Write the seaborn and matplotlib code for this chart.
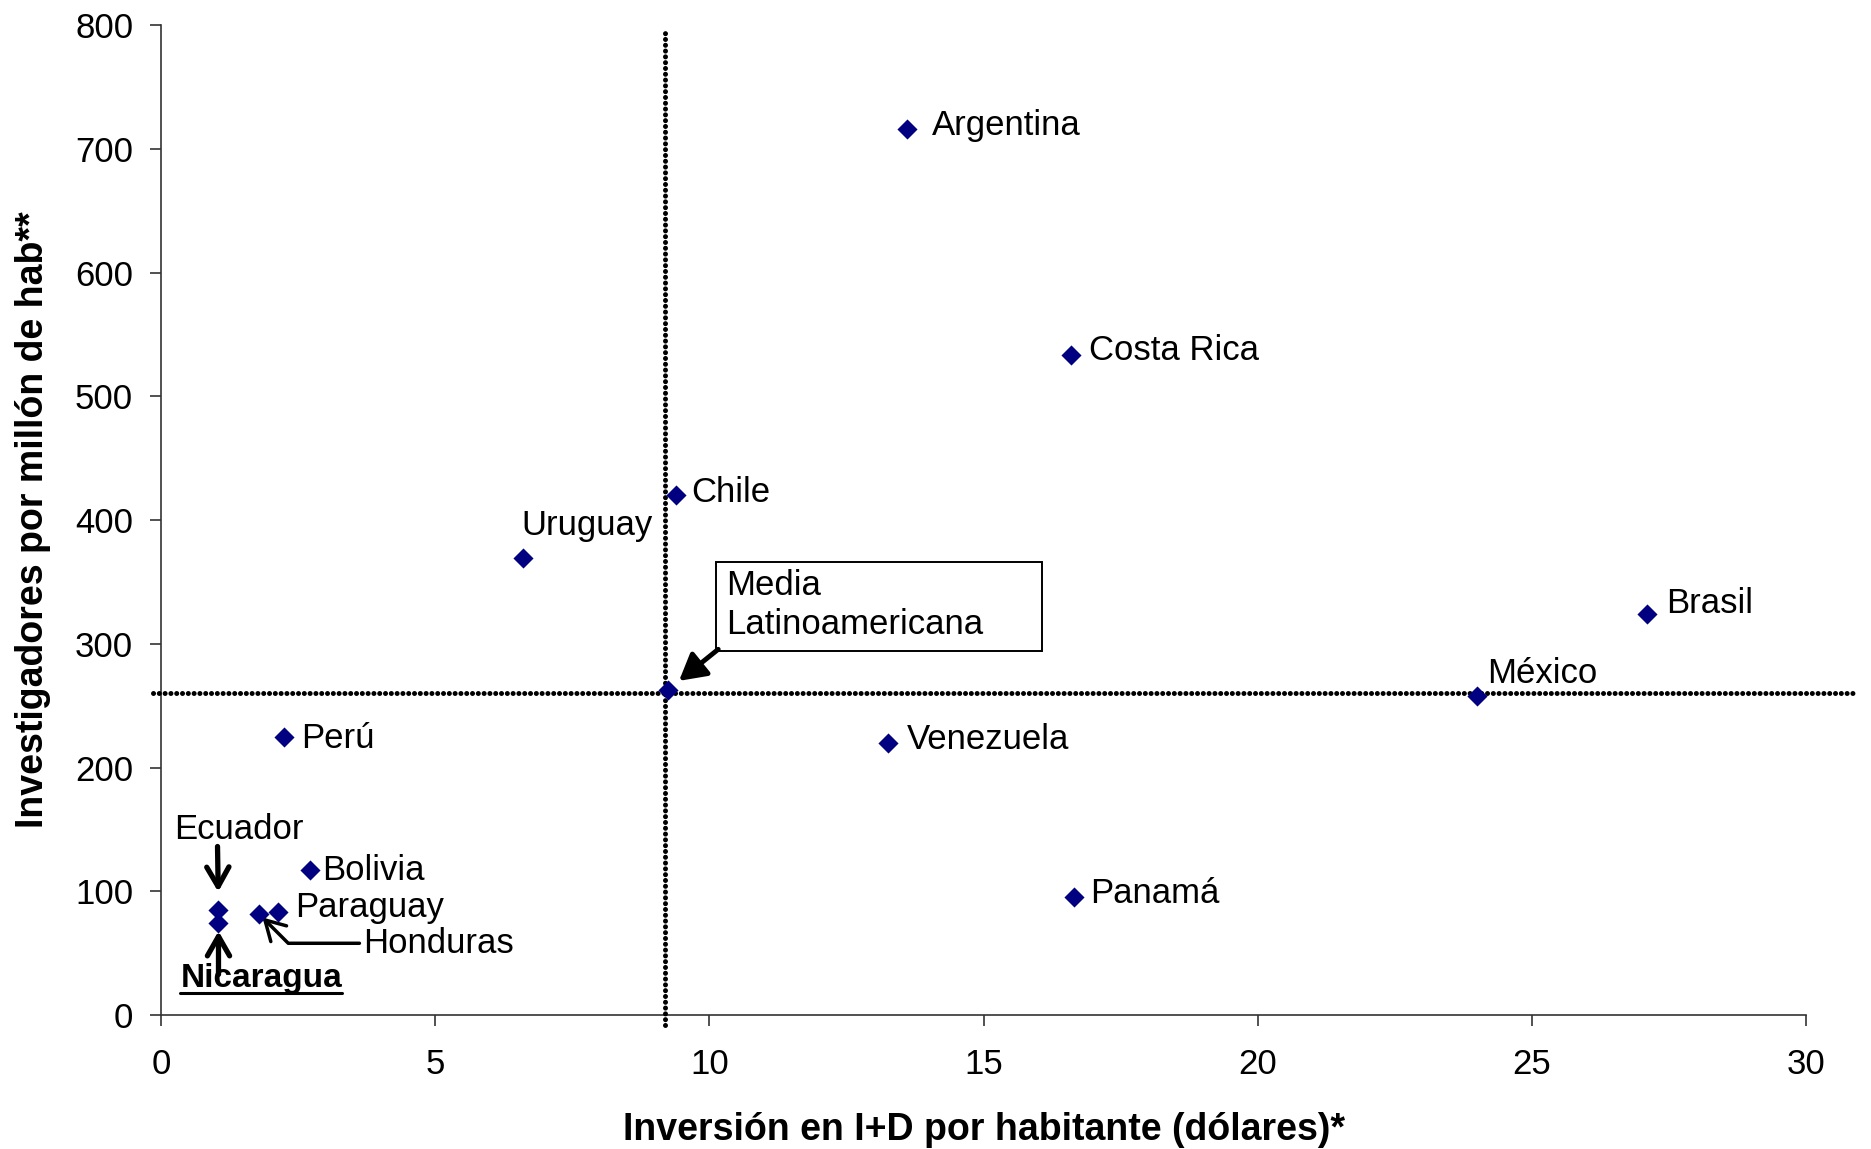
import matplotlib
matplotlib.use("Agg")
import matplotlib.pyplot as plt
from matplotlib.patches import Rectangle
from matplotlib.lines import Line2D
from matplotlib.transforms import ScaledTranslation
import seaborn as sns
import pandas as pd

# Datos por país
paises = ["Argentina", "Costa Rica", "Chile", "Uruguay", "Brasil", "México",
          "Venezuela", "Perú", "Panamá", "Bolivia", "Paraguay", "Honduras",
          "Ecuador", "Nicaragua"]
inversion = [13.6, 16.6, 9.4, 6.6, 27.1, 24.0, 13.25, 2.25, 16.65, 2.72,
             2.13, 1.78, 1.05, 1.05]
investigadores = [716, 533, 420, 369, 324, 258, 220, 225, 95, 117, 83, 82,
                  85, 74]

# Media latinoamericana
media_x, media_y = 9.25, 263
linea_x, linea_y = 9.2, 260

x_ticks = [0, 5, 10, 15, 20, 25, 30]
y_ticks = [0, 100, 200, 300, 400, 500, 600, 700, 800]

# Desplazamiento de cada etiqueta respecto a su punto (puntos tipográficos)
desplaz = {
    "Argentina": (18, 2.6), "Costa Rica": (12.9, 3.4), "Chile": (10.3, 1.7),
    "Uruguay": (-0.9, 24), "Brasil": (13.7, 7.7), "México": (6.9, 16.3),
    "Venezuela": (13.7, 2.6), "Perú": (12, -1.7), "Panamá": (11.2, 2.6),
    "Bolivia": (8.4, 0), "Paraguay": (12.5, 3.4),
}

sns.set_style("ticks")
plt.rcParams["font.family"] = ["Liberation Sans", "DejaVu Sans"]
plt.rcParams["text.color"] = "black"
plt.rcParams["axes.labelcolor"] = "black"
plt.rcParams["xtick.labelcolor"] = "black"
plt.rcParams["ytick.labelcolor"] = "black"

fig = plt.figure(figsize=(18.71, 11.49), dpi=100)
ax = fig.add_axes([0.086, 0.1166, 0.8794, 0.8616])

df = pd.DataFrame({"pais": paises, "x": inversion, "y": investigadores})
sns.scatterplot(data=df, x="x", y="y", marker="D", s=105, color="#000080",
                linewidth=0, ax=ax, zorder=4)
sns.scatterplot(x=[media_x], y=[media_y], marker="D", s=105, color="#000080",
                linewidth=0, ax=ax, zorder=4)

ax.set_xlim(0, 30)
ax.set_ylim(0, 800)
ax.set_xticks(x_ticks)
ax.set_yticks(y_ticks)
ax.tick_params(axis="both", labelsize=25, length=8, width=1.2,
               color="#333333", direction="out")
ax.tick_params(axis="x", pad=16)
ax.tick_params(axis="y", pad=12)
for s in ["top", "right"]:
    ax.spines[s].set_visible(False)
for s in ["left", "bottom"]:
    ax.spines[s].set_color("#333333")
    ax.spines[s].set_linewidth(1.2)

ax.set_xlabel("Inversión en I+D por habitante (dólares)*", fontsize=27,
              fontweight="bold", labelpad=22)
ax.set_ylabel("Investigadores por millón de hab**", fontsize=27,
              fontweight="bold", labelpad=17)

# Líneas de la media
punteado = dict(color="black", lw=3.6, linestyle=(0, (0.01, 1.15)),
                dash_capstyle="round", clip_on=False, zorder=3)
ax.plot([linea_x, linea_x], [-8, 796], **punteado)
ax.plot([-0.15, 30.94], [linea_y, linea_y], **punteado)

# Etiquetas de países
for p, x, y in zip(paises, inversion, investigadores):
    if p in desplaz:
        ax.annotate(p, xy=(x, y), xytext=desplaz[p], textcoords="offset points",
                    ha="left", va="center", fontsize=25, zorder=5)

idx = {p: i for i, p in enumerate(paises)}
flecha = dict(arrowstyle="->,head_length=0.7,head_width=0.4", lw=3.8,
              color="black", mutation_scale=20, shrinkA=0)

# Ecuador
ex, ey = inversion[idx["Ecuador"]], investigadores[idx["Ecuador"]]
ax.annotate("Ecuador", xy=(ex, ey), xytext=(14.4, 57.6),
            textcoords="offset points", ha="center", va="center", fontsize=25)
ax.annotate("", xy=(ex, ey), xytext=(-0.7, 45.6), textcoords="offset points",
            arrowprops=dict(flecha, shrinkB=13))

# Nicaragua
nx, ny = inversion[idx["Nicaragua"]], investigadores[idx["Nicaragua"]]
nic = ax.annotate("Nicaragua", xy=(nx, ny), xytext=(30.7, -39.6),
                  textcoords="offset points", ha="center", va="center",
                  fontsize=24, fontweight="bold")
ax.annotate("", xy=(nx, ny), xytext=(0, -36.7), textcoords="offset points",
            arrowprops=dict(flecha, shrinkB=5.5))

# Honduras
hx, hy = inversion[idx["Honduras"]], investigadores[idx["Honduras"]]
ax.annotate("Honduras", xy=(hx, hy), xytext=(75, -21.4),
            textcoords="offset points", ha="left", va="center", fontsize=25,
            arrowprops=dict(arrowstyle="->,head_length=0.7,head_width=0.4",
                            lw=2.5, color="black", mutation_scale=20,
                            relpos=(0, 0.5), shrinkA=0, shrinkB=4,
                            connectionstyle="angle,angleA=0,angleB=-45,rad=0"))

# Cuadro de la media latinoamericana
caja_tr = fig.dpi_scale_trans + ScaledTranslation(media_x, media_y, ax.transData)
ax.add_patch(Rectangle((0.48, 0.39), 3.26, 0.89, transform=caja_tr,
                       facecolor="white", edgecolor="black", lw=1.4,
                       clip_on=False, zorder=5))
ax.annotate("Media\nLatinoamericana", xy=(media_x, media_y), xytext=(42, 61),
            textcoords="offset points", ha="left", va="center", fontsize=25,
            linespacing=1.25, zorder=6)
ax.annotate("", xy=(media_x, media_y), xytext=(36, 29),
            textcoords="offset points", zorder=6,
            arrowprops=dict(arrowstyle="-|>,head_length=0.8,head_width=0.45",
                            lw=3.5, color="black", mutation_scale=20,
                            shrinkA=0, shrinkB=10))

# Subrayado de Nicaragua
fig.canvas.draw()
bb = nic.get_window_extent()
fig.add_artist(Line2D([bb.x0, bb.x1], [bb.y0 + 1, bb.y0 + 1], lw=2.2,
                      color="black", transform=None))

fig.savefig("out.png", dpi=100)
